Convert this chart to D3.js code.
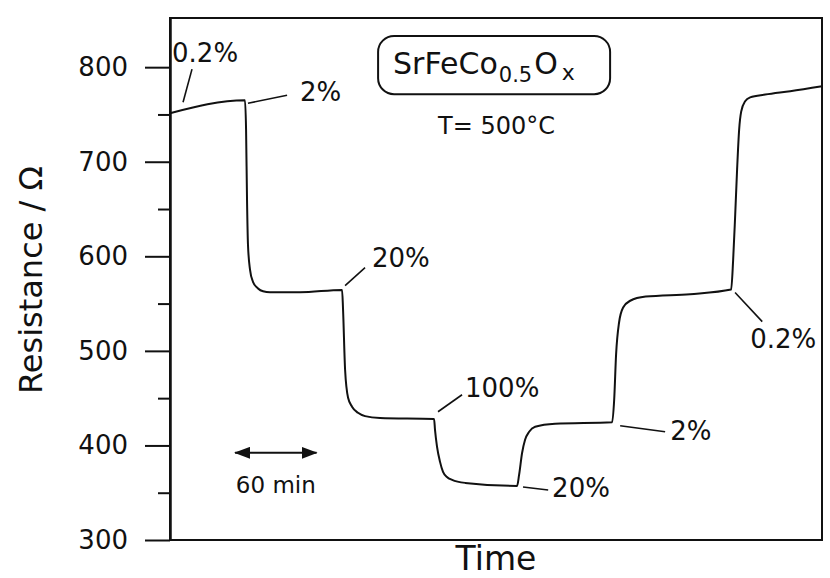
<!DOCTYPE html>
<html lang="en">
<head>
    <meta charset="UTF-8">
    <title>SrFeCo0.5Ox resistance vs time</title>
    <style>
        body { margin: 0; background: #fff; }
        svg text { font-family: "DejaVu Sans", sans-serif; fill: #111; }
        .frame, .axis path, .axis line { stroke: #111; stroke-width: 2; fill: none; }
        .curve { fill: none; stroke: #111; stroke-width: 2; }
        .leader { stroke: #111; stroke-width: 1.6; }
    </style>
</head>
<body>
    <script src="https://d3js.org/d3.v7.min.js"></script>
    <script>
        // time in minutes, resistance in ohm
        const times = [0, 55.2, 56.0, 56.7, 57.4, 58.9, 61.1, 64.8, 68.5, 73.6, 95.7, 126.7,
            127.4, 128.9, 131.1, 134.0, 138.4, 143.6, 154.6, 194.4,
            195.1, 196.6, 198.8, 201.0, 203.9, 207.7, 217.3, 255.5,
            257.0, 259.2, 261.4, 264.4, 268.8, 283.5, 325.5,
            327.0, 328.4, 330.6, 333.6, 338.8, 350.2, 382.9, 413.1,
            414.6, 416.1, 417.5, 419.0, 420.5, 423.4, 427.1, 438.2, 456.6, 480];
        const resistance = [751.3, 765, 734, 660, 612.5, 586, 573, 566, 563, 562, 562, 564.5,
            543.6, 480, 450.4, 441, 434.5, 431, 429, 428,
            416.5, 398.5, 382.6, 372, 366.7, 363.6, 360.4, 357.2,
            368.9, 392, 406, 414.4, 419.7, 422.9, 424.5,
            448.3, 496, 530, 545.8, 553, 557.4, 560, 564.8,
            596.6, 644, 692, 734, 753, 764, 768, 771, 774.6, 779.9];

        const yTicks = [300, 400, 500, 600, 700, 800];
        const yMinorTicks = [350, 450, 550, 650, 750];

        // gas labels: text position, leader line from curve to label
        const labels = ["0.2%", "2%", "20%", "100%", "20%", "2%", "0.2%"];
        const labelT = [1.5, 95.7, 148.7, 217.2, 281.3, 368.2, 427.1];
        const labelR = [805, 764, 589, 451.5, 345.6, 405.9, 503.4];
        const leaderT0 = [16.2, 57.4, 128.9, 197.3, 259.9, 331.4, 416.0];
        const leaderR0 = [797.9, 761.9, 569, 435.6, 356, 420.8, 561.7];
        const leaderT1 = [9.6, 86.2, 143.6, 215.0, 278.4, 364.5, 436.0];
        const leaderR1 = [762.9, 770.3, 588, 453.6, 352.9, 414.4, 530.9];

        const scaleBarMin = [47.9, 107.9];
        const scaleBarR = 392.2;

        const width = 830, height = 578;
        const plotLeft = 170, plotRight = 822, plotTop = 18, plotBottom = 540;

        const svg = d3.select("body").append("svg")
            .attr("width", width)
            .attr("height", height);

        const x = d3.scaleLinear().domain([0, 480]).range([plotLeft, plotRight]);
        const y = d3.scaleLinear().domain([300, 852]).range([plotBottom, plotTop]);

        // frame
        svg.append("rect").attr("class", "frame")
            .attr("x", plotLeft).attr("y", plotTop)
            .attr("width", plotRight - plotLeft).attr("height", plotBottom - plotTop);

        // y axis, major and minor ticks
        const yAxis = svg.append("g").attr("class", "axis")
            .attr("transform", `translate(${plotLeft},0)`)
            .call(d3.axisLeft(y).tickValues(yTicks).tickSize(25).tickPadding(17).tickSizeOuter(0));
        yAxis.selectAll("text").style("font-size", "26px").attr("fill", "#111");

        svg.append("g").attr("class", "axis")
            .attr("transform", `translate(${plotLeft},0)`)
            .call(d3.axisLeft(y).tickValues(yMinorTicks).tickSize(12).tickFormat("").tickSizeOuter(0));

        svg.append("text")
            .attr("transform", `translate(42,280) rotate(-90)`)
            .attr("text-anchor", "middle")
            .style("font-size", "32px")
            .text("Resistance / Ω");

        svg.append("text")
            .attr("x", (plotLeft + plotRight) / 2)
            .attr("y", 570)
            .attr("text-anchor", "middle")
            .style("font-size", "33px")
            .text("Time");

        // curve
        const line = d3.line()
            .x((d, i) => x(times[i]))
            .y(d => y(d))
            .curve(d3.curveMonotoneX);

        svg.append("path").attr("class", "curve")
            .attr("d", line(resistance));

        // leaders and labels
        labels.forEach((lab, i) => {
            svg.append("line").attr("class", "leader")
                .attr("x1", x(leaderT0[i])).attr("y1", y(leaderR0[i]))
                .attr("x2", x(leaderT1[i])).attr("y2", y(leaderR1[i]));
            svg.append("text")
                .attr("x", x(labelT[i])).attr("y", y(labelR[i]))
                .style("font-size", "26px")
                .text(lab);
        });

        // compound box
        svg.append("rect")
            .attr("x", x(153.2)).attr("y", y(833))
            .attr("width", x(324) - x(153.2)).attr("height", y(771.4) - y(833))
            .attr("rx", 16)
            .attr("fill", "none").attr("stroke", "#111").attr("stroke-width", 2);

        const formula = svg.append("text")
            .attr("x", x(164.2)).attr("y", y(792.6))
            .style("font-size", "30px");
        formula.append("tspan").text("SrFeCo");
        formula.append("tspan").attr("dy", 8).attr("dx", 1).style("font-size", "21px").text("0.5");
        formula.append("tspan").attr("dy", -8).attr("dx", 2).text("O");
        formula.append("tspan").attr("dy", 6).attr("dx", 4).style("font-size", "22px").text("x");

        svg.append("text")
            .attr("x", x(197.3)).attr("y", y(729))
            .style("font-size", "24px")
            .text("T= 500°C");

        // 60 min scale bar
        const defs = svg.append("defs");
        defs.append("marker")
            .attr("id", "head")
            .attr("viewBox", "0 0 16 12")
            .attr("refX", 15).attr("refY", 6)
            .attr("markerWidth", 16).attr("markerHeight", 12)
            .attr("markerUnits", "userSpaceOnUse")
            .attr("orient", "auto-start-reverse")
            .append("path").attr("d", "M0,0L16,6L0,12Z").attr("fill", "#111");

        svg.append("line")
            .attr("x1", x(scaleBarMin[0])).attr("y1", y(scaleBarR))
            .attr("x2", x(scaleBarMin[1])).attr("y2", y(scaleBarR))
            .attr("stroke", "#111").attr("stroke-width", 2)
            .attr("marker-start", "url(#head)")
            .attr("marker-end", "url(#head)");

        svg.append("text")
            .attr("x", x((scaleBarMin[0] + scaleBarMin[1]) / 2))
            .attr("y", y(349.8))
            .attr("text-anchor", "middle")
            .style("font-size", "23px")
            .text("60 min");
    </script>
</body>
</html>
